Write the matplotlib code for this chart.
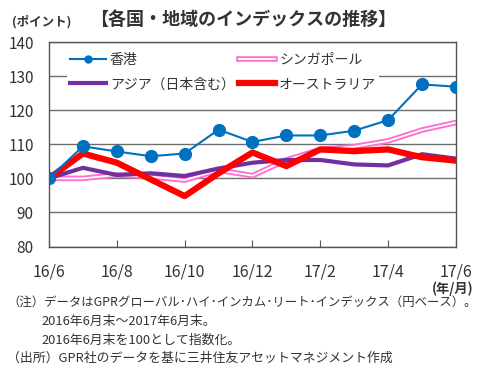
import matplotlib
matplotlib.use("Agg")
import matplotlib.pyplot as plt
import matplotlib.patheffects as pe
import numpy as np

plt.rcParams['font.family'] = ['Noto Sans CJK JP', 'DejaVu Sans']

# monthly points, 16/6 .. 17/6
months = np.arange(13)
tick_pos = [0, 2, 4, 6, 8, 10, 12]
tick_labels = ['16/6', '16/8', '16/10', '16/12', '17/2', '17/4', '17/6']

hongkong = [100, 109.4, 107.9, 106.5, 107.3, 114.3, 110.7, 112.6, 112.6, 114.0, 117.1, 127.6, 126.9]
singapore = [100, 100.0, 101.0, 100.5, 99.5, 102.4, 100.8, 105.4, 108.5, 109.3, 111.0, 114.2, 116.4]
asia = [100, 103.1, 101.0, 101.5, 100.7, 102.9, 104.6, 105.4, 105.4, 104.1, 103.8, 107.1, 105.8]
australia = [100, 107.3, 104.6, 99.7, 94.8, 101.5, 107.6, 103.6, 108.5, 108.0, 108.5, 106.2, 105.2]

txt = '#333333'

fig = plt.figure(figsize=(4.83, 3.76), dpi=100)
ax = fig.add_axes([0.1014, 0.3444, 0.8426, 0.5436])

l_sg, = ax.plot(months, singapore, color='white', lw=1.3, zorder=2,
                path_effects=[pe.Stroke(linewidth=4, foreground='#ff6fd0'), pe.Normal()],
                label='シンガポール')
l_as, = ax.plot(months, asia, color='#7030a0', lw=3, zorder=3, label='アジア（日本含む）')
l_au, = ax.plot(months, australia, color='#ff0000', lw=4.5, zorder=4, label='オーストラリア')
l_hk, = ax.plot(months, hongkong, color='#0070c0', lw=1.5, marker='o', ms=8.5,
                zorder=5, label='香港')

ax.set_xlim(0, 12)
ax.set_ylim(80, 140)
ax.set_yticks([80, 90, 100, 110, 120, 130, 140])
ax.set_xticks(tick_pos)
ax.set_xticklabels(tick_labels)
ax.tick_params(axis='y', length=0, pad=11, labelsize=11, labelcolor=txt)
ax.tick_params(axis='x', direction='in', length=5, pad=12, labelsize=11.5,
               labelcolor=txt, color='#555555')
ax.grid(axis='y', color='#6e6e6e', lw=1)
ax.set_axisbelow(True)
for s in ax.spines.values():
    s.set_color('#555555')
    s.set_linewidth(1)

leg = ax.legend(handles=[l_hk, l_as, l_sg, l_au], ncol=2, loc='upper left',
                bbox_to_anchor=(0.027, 0.995), frameon=True, fancybox=False,
                edgecolor='none', facecolor='white', framealpha=1,
                fontsize=10, handlelength=2.6, handletextpad=0.3,
                columnspacing=0.3, labelspacing=0.75, borderpad=0.2)
for t in leg.get_texts():
    t.set_color(txt)
leg.legend_handles[0].set_markersize(5)

fig.text(0.503, 0.948, '【各国・地域のインデックスの推移】', ha='center', va='center',
         fontsize=13, fontweight='bold', color=txt)
fig.text(0.025, 0.941, '(ポイント)', ha='left', va='center', fontsize=9,
         fontweight='bold', color=txt)
fig.text(0.98, 0.232, '(年/月)', ha='right', va='center', fontsize=9.5,
         fontweight='bold', color=txt)

notes = [
    (0.015, 0.197, '（注）データはGPRグローバル･ハイ･インカム･リート･インデックス（円ベース）。', 8.9),
    (0.085, 0.146, '2016年6月末～2017年6月末。', 9.3),
    (0.085, 0.096, '2016年6月末を100として指数化。', 9.3),
    (0.015, 0.048, '（出所）GPR社のデータを基に三井住友アセットマネジメント作成', 9.3),
]
for x, y, s, fs in notes:
    fig.text(x, y, s, ha='left', va='center', fontsize=fs, color=txt)

fig.savefig('out.png', dpi=100)
